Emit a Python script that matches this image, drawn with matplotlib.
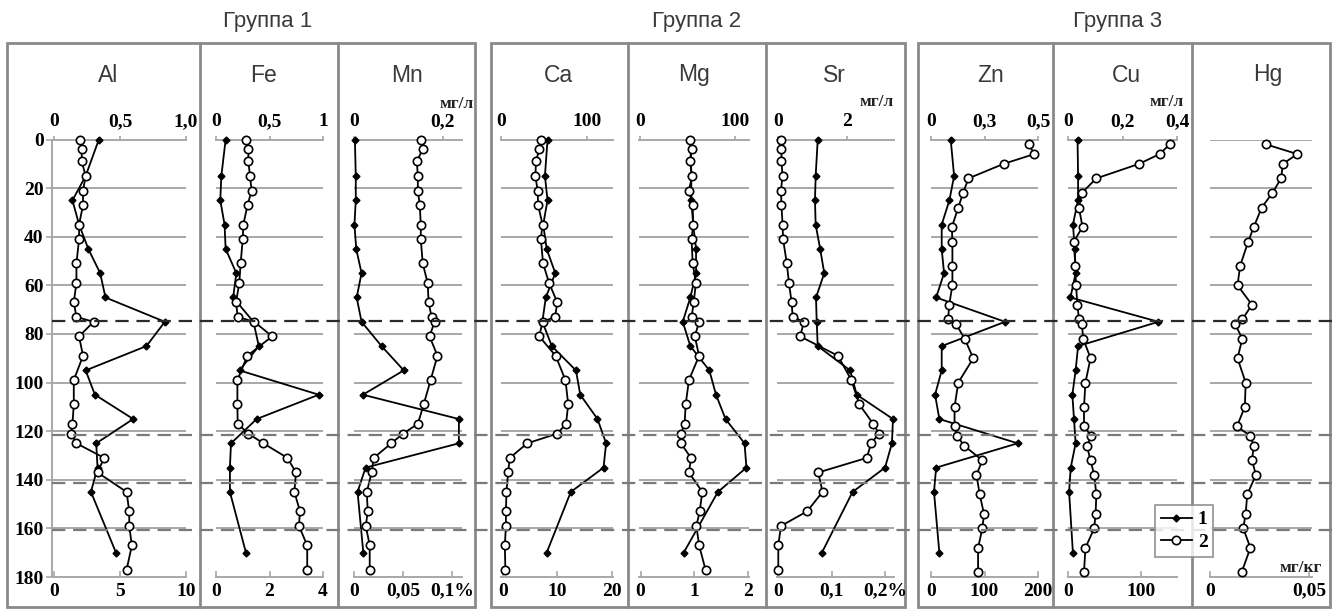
import matplotlib
matplotlib.use('Agg')
import matplotlib.pyplot as plt
import matplotlib.transforms as mtransforms
from matplotlib.lines import Line2D
from matplotlib.patches import Rectangle

# depths (cm) of the sampled points
depth_1 = [0, 15, 25, 35, 45, 55, 65, 75, 85, 95, 105, 115, 125, 135, 145, 170]
depth_2 = [0, 4, 9, 15, 21, 27, 35, 41, 51, 59, 67, 73, 75, 81, 89, 99, 109,
           117, 121, 125, 131, 137, 145, 153, 159, 167, 177]
depth_2g3 = [2, 6, 10, 16, 22, 28, 36, 42, 52, 60, 68, 74, 76, 82, 90, 100, 110,
             118, 122, 126, 132, 138, 146, 154, 160, 168, 178]

# series 1 (water, mg/l) and series 2 (sediment)
al_1 = [0.34, 0.24, 0.14, 0.19, 0.26, 0.35, 0.39, 0.84, 0.70, 0.24, 0.31, 0.60, 0.32, 0.33, 0.28, 0.47]
al_2 = [2.0, 2.1, 2.1, 2.4, 2.2, 2.2, 1.9, 1.9, 1.7, 1.7, 1.5, 1.7, 3.0, 1.9, 2.2, 1.5, 1.5,
        1.4, 1.3, 1.7, 3.8, 3.3, 5.5, 5.7, 5.7, 5.9, 5.5]
fe_1 = [0.09, 0.05, 0.04, 0.08, 0.09, 0.19, 0.16, 0.35, 0.40, 0.22, 0.96, 0.38, 0.14, 0.13, 0.13, 0.28]
fe_2 = [1.12, 1.21, 1.21, 1.27, 1.33, 1.18, 1.02, 1.0, 0.92, 0.87, 0.75, 0.81, 1.43, 2.1, 1.17, 0.8, 0.8,
        0.81, 1.21, 1.77, 2.67, 2.99, 2.93, 3.14, 3.1, 3.41, 3.41]
mn_1 = [0.002, 0.004, 0.004, 0.001, 0.005, 0.017, 0.006, 0.017, 0.062, 0.112, 0.02, 0.236, 0.236,
        0.026, 0.008, 0.021]
mn_2 = [0.068, 0.070, 0.064, 0.065, 0.065, 0.067, 0.068, 0.068, 0.070, 0.075, 0.076, 0.079, 0.082,
        0.077, 0.085, 0.078, 0.071, 0.065, 0.050, 0.038, 0.020, 0.018, 0.013, 0.014, 0.012, 0.016, 0.016]
ca_1 = [54, 51, 54, 49, 53, 63, 52, 48, 59, 87, 92, 112, 122, 119, 81, 53]
ca_2 = [7.0, 6.7, 6.1, 6.0, 6.4, 6.5, 7.3, 7.0, 7.4, 8.5, 10.0, 9.6, 7.3, 6.7, 9.7, 11.5, 12.0,
        11.6, 10.0, 4.5, 1.3, 1.0, 0.7, 0.6, 0.6, 0.4, 0.5]
mg_1 = [53, 54, 54, 56, 59, 59, 53, 45, 53, 73, 80, 90, 110, 112, 82, 46]
mg_2 = [0.92, 0.95, 0.92, 0.96, 0.90, 0.97, 0.98, 0.95, 0.97, 1.03, 0.99, 0.95, 1.09, 1.01, 1.09, 0.90,
        0.84, 0.82, 0.75, 0.75, 0.94, 0.90, 1.15, 1.10, 1.04, 1.09, 1.21]
sr_1 = [1.14, 1.08, 1.06, 1.08, 1.21, 1.33, 1.09, 1.11, 1.14, 2.08, 2.27, 3.32, 3.29, 3.09, 2.15, 1.26]
sr_2 = [0.005, 0.006, 0.006, 0.008, 0.005, 0.006, 0.008, 0.009, 0.016, 0.020, 0.025, 0.027, 0.048,
        0.041, 0.112, 0.137, 0.152, 0.178, 0.189, 0.174, 0.166, 0.075, 0.083, 0.054, 0.005, 0.0, 0.0]
zn_1 = [0.092, 0.108, 0.086, 0.05, 0.05, 0.061, 0.024, 0.346, 0.05, 0.05, 0.019, 0.039, 0.405,
        0.024, 0.014, 0.039]
zn_2 = [183, 193, 136, 70, 60, 51, 39, 40, 40, 40, 34, 32, 47, 63, 79, 51, 44, 44, 49, 62, 96, 85,
        91, 99, 96, 88, 88]
cu_1 = [0.035, 0.037, 0.037, 0.018, 0.025, 0.028, 0.009, 0.332, 0.037, 0.028, 0.016, 0.022, 0.028,
        0.010, 0.004, 0.018]
cu_2 = [140, 126, 98, 39, 19, 15, 20, 8, 10, 11, 13, 15, 19, 21, 31, 24, 22, 22, 32, 26, 31, 36,
        39, 38, 36, 24, 22]
hg_2 = [0.0283, 0.0441, 0.0368, 0.0359, 0.0315, 0.0261, 0.0221, 0.0193, 0.0152, 0.0139, 0.0212,
        0.0163, 0.0127, 0.0163, 0.0139, 0.018, 0.0176, 0.0136, 0.0204, 0.0221, 0.0212, 0.0232,
        0.0188, 0.018, 0.0168, 0.0204, 0.016]

layer_depths = [74.8, 121.6, 141.4, 160.7]
group_titles = ['Группа 1', 'Группа 2', 'Группа 3']

W, H = 1338, 610
GRAY = '#a8a8a8'
BOX = '#8a8a8a'
DARK = '#3a3a3a'
TICK_FS = 14

plt.rcParams['font.family'] = 'Liberation Serif'
plt.rcParams['font.weight'] = 'bold'

fig = plt.figure(figsize=(W / 100, H / 100), dpi=100)


def fx(px):
    return px / W


def fy(py):
    return 1 - py / H


Y0, Y1 = 139.5, 577

# name, x0, x1, name_x, top (lim, ticks, labels), bottom (lim, ticks, labels), s1, s2, d2
panels = [
    ('Al', 52, 186, 108, (-0.015, 1.0), [0, 0.5, 1.0], ['0', '0,5', '1,0'],
     (-0.15, 10), [0, 5, 10], ['0', '5', '10'], al_1, al_2, depth_2),
    ('Fe', 216, 323, 263, (0, 1), [0, 0.5, 1], ['0', '0,5', '1'],
     (0, 4), [0, 2, 4], ['0', '2', '4'], fe_1, fe_2, depth_2),
    ('Mn', 354, 462, 407, (0, 0.243), [0, 0.2], ['0', '0,2'],
     (0, 0.11), [0, 0.05, 0.1], ['0', '0,05', '0,1%'], mn_1, mn_2, depth_2),
    ('Ca', 501, 613, 558, (0, 130), [0, 100], ['0', '100'],
     (-0.3, 20.2), [0, 10, 20], ['0', '10', '20'], ca_1, ca_2, depth_2),
    ('Mg', 639, 749, 694, (-1, 114.7), [0, 100], ['0', '100'],
     (-0.03, 2.02), [0, 1, 2], ['0', '1', '2'], mg_1, mg_2, depth_2),
    ('Sr', 777, 894, 834, (-0.04, 3.35), [0, 2], ['0', '2'],
     (-0.0024, 0.217), [0, 0.1, 0.2], ['0', '0,1', '0,2%'], sr_1, sr_2, depth_2),
    ('Zn', 931, 1038, 991, (0, 0.5), [0, 0.25, 0.5], ['0', '0,3', '0,5'],
     (0, 200), [0, 100, 200], ['0', '100', '200'], zn_1, zn_2, depth_2g3),
    ('Cu', 1068, 1177, 1126, (0, 0.4), [0, 0.2, 0.4], ['0', '0,2', '0,4'],
     (0, 150), [0, 100], ['0', '100'], cu_1, cu_2, depth_2g3),
    ('Hg', 1210, 1312, 1268, None, None, None,
     (0, 0.0515), [0, 0.05], ['0', '0,05'], None, hg_2, depth_2g3),
]

axes = []
for (name, x0, x1, nx, tlim, tticks, tlabels, blim, bticks, blabels, s1, s2, d2) in panels:
    ax = fig.add_axes([fx(x0), fy(Y1), (x1 - x0) / W, (Y1 - Y0) / H])
    ax.set_ylim(180, 0)
    ax.set_xlim(*blim)
    ax.set_xticks(bticks)
    ax.set_xticklabels(blabels)
    ax.tick_params(axis='x', direction='in', length=4, width=1.2, color=GRAY,
                   labelsize=TICK_FS, pad=4)
    for sp in ['top', 'right']:
        ax.spines[sp].set_visible(False)
    ax.spines['bottom'].set_color(GRAY)
    ax.spines['bottom'].set_linewidth(1.4)
    if name == 'Al':
        ax.set_yticks(range(0, 181, 20))
        ax.tick_params(axis='y', direction='out', length=4, width=1.2, color=GRAY,
                       labelsize=TICK_FS, pad=2)
        ax.spines['left'].set_color(GRAY)
        ax.spines['left'].set_linewidth(1.4)
    else:
        ax.set_yticks([])
        ax.spines['left'].set_visible(False)
    ax.set_facecolor('none')

    grid_ax = ax
    if tlim is not None:
        tw = ax.twiny()
        tw.set_xlim(*tlim)
        tw.set_xticks(tticks)
        tw.set_xticklabels(tlabels)
        tw.tick_params(axis='x', direction='out', length=3, width=1.2, color=GRAY,
                       labelsize=TICK_FS, pad=4)
        for sp in ['bottom', 'left', 'right']:
            tw.spines[sp].set_visible(False)
        tw.spines['top'].set_color(GRAY)
        tw.spines['top'].set_linewidth(1.4)
        tw.plot(s1, depth_1, color='black', lw=1.3, marker='D', ms=3.5, zorder=4,
                clip_on=False)
        # open circles drawn above the water series
        ax.set_zorder(tw.get_zorder() + 1)
        grid_ax = tw
    grid = range(20, 161, 20) if tlim is not None else range(0, 161, 20)
    for g in grid:
        grid_ax.axhline(g, color=GRAY, lw=1.4, zorder=1)
    ax.plot(s2, d2, color='black', lw=1.3, marker='o', ms=6, mfc='white',
            mec='black', mew=1.2, zorder=3, clip_on=False)
    fig.text(fx(nx), fy(75), name, family='Liberation Sans', weight='normal',
             fontsize=16.5, color=DARK, ha='center', va='center')
    axes.append(ax)

# group boxes and dividers
boxes = [(7.3, 475, [200, 338.3]), (490.7, 905, [628.3, 766]), (917.7, 1330, [1053.3, 1191.7])]
title_x = [268, 697, 1118]
for (bx0, bx1, divs), title, tx in zip(boxes, group_titles, title_x):
    fig.add_artist(Rectangle((fx(bx0), fy(606.7)), (bx1 - bx0) / W, (606.7 - 42.7) / H,
                             transform=fig.transFigure, fill=False, edgecolor=BOX, lw=2))
    for d in divs:
        fig.add_artist(Line2D([fx(d), fx(d)], [fy(42.7), fy(606.7)],
                              transform=fig.transFigure, color=BOX, lw=2))
    fig.text(fx(tx), fy(22), title, family='Liberation Sans', weight='normal',
             fontsize=16, color=DARK, ha='center', va='center')

# boundaries between layers, drawn across all panels
trans = mtransforms.blended_transform_factory(fig.transFigure, axes[0].transData)
for i, d in enumerate(layer_depths):
    c = '#2a2a2a' if i == 0 else '#7a7a7a'
    fig.add_artist(Line2D([fx(52), 1.0], [d, d], transform=trans, color=c,
                          lw=1.6, dashes=(6, 3.5), zorder=5))

# units
for ux, uy, txt in [(456.7, 104, 'мг/л'), (876.7, 102, 'мг/л'), (1166.7, 102, 'мг/л'),
                    (1301, 568, 'мг/кг')]:
    fig.text(fx(ux), fy(uy), txt, fontsize=12.5, ha='center', va='center', color='#222222')

handles = [Line2D([], [], color='black', lw=1.3, marker='D', ms=3.5),
           Line2D([], [], color='black', lw=1.3, marker='o', ms=6, mfc='white', mew=1.2)]
leg = fig.legend(handles, ['1', '2'], loc='upper left',
                 bbox_to_anchor=(fx(1155), fy(505)), frameon=True, fancybox=False,
                 edgecolor=BOX, fontsize=14, handlelength=1.6, handletextpad=0.3,
                 borderpad=0.3, labelspacing=0.25, borderaxespad=0)
leg.get_frame().set_linewidth(1.4)

fig.savefig('out.png', dpi=100)
